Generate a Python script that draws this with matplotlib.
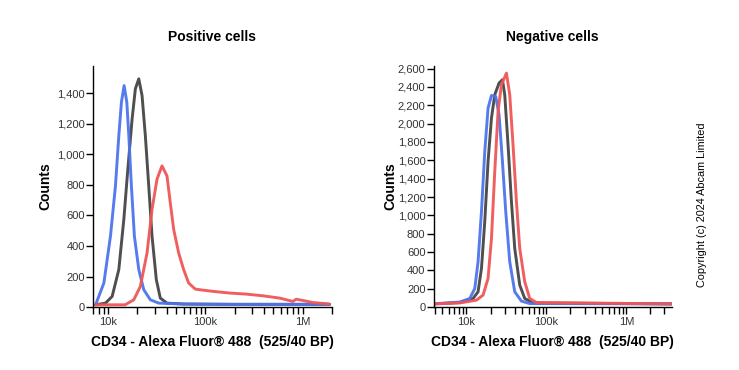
import numpy as np
import matplotlib
matplotlib.use("Agg")
import matplotlib.pyplot as plt
from matplotlib.ticker import FuncFormatter, FixedLocator, LogLocator, NullFormatter

plt.rcParams['font.family'] = ['Liberation Sans', 'DejaVu Sans']

# positive cells
pos_black_x = [7400, 9382, 10990, 12870, 14490, 15930, 17630, 19050, 20650, 22320, 24130, 26150, 28270, 31290, 34390, 40290, 60000, 200000, 1900000]
pos_black_y = [15, 26, 70, 246, 574, 903, 1232, 1430, 1495, 1385, 1122, 793, 465, 180, 59, 26, 20, 18, 18]

pos_blue_x = [7400, 7534, 9034, 10560, 11880, 12870, 13690, 14590, 15550, 16310, 17340, 18610, 20650, 23240, 27150, 33110, 60000, 200000, 1900000]
pos_blue_y = [15, 26, 158, 465, 793, 1122, 1342, 1451, 1342, 1122, 793, 465, 246, 114, 48, 26, 20, 18, 18]

pos_red_x = [7400, 14940, 18350, 21450, 25120, 28270, 31810, 35800, 40290, 43550, 47190, 53110, 59760, 67250, 78630, 92070, 120200, 178200, 264700, 392000, 580400, 794800, 860700, 1275000, 1892000]
pos_red_y = [15, 15, 48, 136, 355, 640, 838, 925, 859, 684, 509, 355, 246, 158, 118, 112, 103, 92, 85, 74, 59, 37, 52, 30, 20]

# negative cells
neg_black_x = [3900, 8245, 12090, 13960, 15400, 16930, 18620, 20540, 22580, 25560, 28180, 30110, 33110, 36520, 40160, 46380, 53560, 68000, 3700000]
neg_black_y = [35, 50, 94, 167, 422, 931, 1587, 2060, 2315, 2442, 2479, 2315, 1769, 1150, 640, 240, 94, 45, 35]

neg_blue_x = [3900, 8245, 10996, 12700, 13960, 15400, 16930, 18620, 20540, 23240, 25560, 28180, 30990, 34770, 40160, 48700, 61830, 3700000]
neg_blue_y = [35, 55, 94, 203, 495, 1041, 1696, 2169, 2307, 2296, 2097, 1587, 1041, 495, 167, 65, 39, 35]

neg_red_x = [3900, 8245, 13340, 16130, 18620, 20540, 22580, 24830, 27380, 31620, 34770, 38240, 42170, 46380, 53560, 61830, 74990, 3700000]
neg_red_y = [35, 45, 76, 131, 313, 749, 1477, 2133, 2424, 2551, 2315, 1769, 1150, 640, 276, 94, 50, 35]

titles = ["Positive cells", "Negative cells"]
xlabel = "CD34 - Alexa Fluor\u00ae 488  (525/40 BP)"

c_black = "#454545"
c_blue = "#4c74ec"
c_red = "#f05656"


def kfmt(v, pos):
    if v >= 1e6:
        return "%dM" % (v / 1e6)
    return "%dk" % (v / 1e3)


fig = plt.figure(figsize=(7.39, 3.70), dpi=100)
ax1 = fig.add_axes([0.126, 0.170, 0.323, 0.652])
ax2 = fig.add_axes([0.587, 0.170, 0.322, 0.652])

panels = [
    (ax1, pos_black_x, pos_black_y, pos_blue_x, pos_blue_y, pos_red_x, pos_red_y, (7000, 2000000), 1580, np.arange(0, 1401, 200), 3),
    (ax2, neg_black_x, neg_black_y, neg_blue_x, neg_blue_y, neg_red_x, neg_red_y, (3900, 3700000), 2630, np.arange(0, 2601, 200), 0),
]

for i, (ax, bx, by, blx, bly, rx, ry, xl, ymax, yt, lp) in enumerate(panels):
    for xs, ys, c in [(bx, by, c_black), (blx, bly, c_blue), (rx, ry, c_red)]:
        ax.plot(xs, ys, color=c, lw=2.1, alpha=0.95, solid_capstyle='round',
                solid_joinstyle='round')
    ax.set_xscale('log')
    ax.set_xlim(*xl)
    ax.set_ylim(0, ymax)
    ax.set_yticks(yt)
    ax.yaxis.set_major_formatter(FuncFormatter(lambda v, p: "{:,}".format(int(v))))
    ax.xaxis.set_major_locator(FixedLocator([1e4, 1e5, 1e6]))
    ax.xaxis.set_major_formatter(FuncFormatter(kfmt))
    ax.xaxis.set_minor_locator(LogLocator(base=10, subs=np.arange(2, 10)))
    ax.xaxis.set_minor_formatter(NullFormatter())
    for s in ['top', 'right']:
        ax.spines[s].set_visible(False)
    for s in ['left', 'bottom']:
        ax.spines[s].set_color('black')
        ax.spines[s].set_linewidth(1.0)
    ax.tick_params(axis='both', which='major', labelsize=8, colors='black', labelcolor='#333333', length=5, width=1)
    ax.tick_params(axis='x', which='minor', length=5, width=1, colors='black')
    ax.tick_params(axis='x', which='major', pad=2)
    ax.tick_params(axis='y', pad=1)
    ax.set_title(titles[i], fontsize=10, fontweight='bold', pad=18)
    ax.set_xlabel(xlabel, fontsize=10, fontweight='bold', labelpad=6)
    ax.set_ylabel("Counts", fontsize=10, fontweight='bold', labelpad=lp)

fig.text(0.950, 0.446, "Copyright (c) 2024 Abcam Limited", rotation=90, fontsize=7.8,
         ha='center', va='center', color='black')

fig.savefig("out.png", dpi=100)
